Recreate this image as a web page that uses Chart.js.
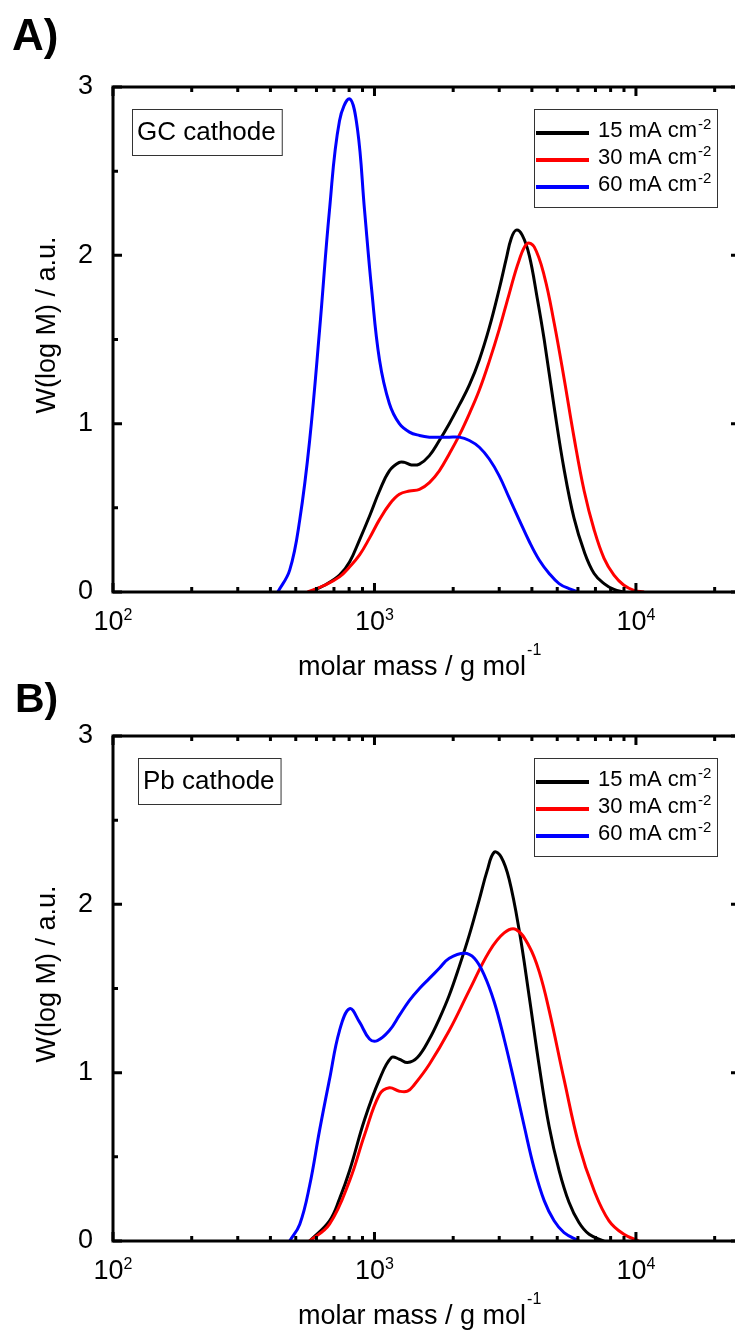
<!DOCTYPE html>
<html>
<head>
<meta charset="utf-8">
<script src="https://cdn.jsdelivr.net/npm/chart.js@4.4.1/dist/chart.umd.min.js"></script>
<style>
  html, body { margin: 0; padding: 0; background: #fff; overflow: hidden; }
  body { width: 735px; height: 1331px; position: relative; }
  canvas { position: absolute; left: 0; }
  #chartA { top: 0; }
  #chartB { top: 649px; }
</style>
</head>
<body>
<canvas id="chartA" width="760" height="682"></canvas>
<canvas id="chartB" width="760" height="682"></canvas>
<script>
// Series labels (superscript part kept apart so it can be raised)
const seriesNames = ['15 mA cm', '30 mA cm', '60 mA cm'];
const seriesSup = '-2';
const seriesColors = ['#000000', '#ff0000', '#0000ff'];

// Axis ticks
const massTicks = [100, 1000, 10000];
const massMinor = [200, 300, 400, 500, 600, 700, 800, 900,
                   2000, 3000, 4000, 5000, 6000, 7000, 8000, 9000, 20000];
const wTicks = [0, 1, 2, 3];
const wMinor = [0.5, 1.5, 2.5];

// A) GC cathode
const gcMass15 = [565, 644, 735, 804, 877, 957, 1045, 1140, 1245, 1303, 1384, 1486, 1622, 1770, 1932, 2109, 2307, 2518, 2748, 3000, 3192, 3334, 3483, 3673, 3908, 4188, 4457, 4864, 5309, 5794, 6339, 6918, 7551, 8241, 8995];
const gcW15    = [0, 0.04, 0.1, 0.18, 0.31, 0.45, 0.6, 0.72, 0.77, 0.77, 0.755, 0.76, 0.81, 0.9, 1.0, 1.11, 1.23, 1.38, 1.57, 1.8, 1.98, 2.1, 2.15, 2.12, 2.0, 1.75, 1.5, 1.1, 0.73, 0.44, 0.24, 0.11, 0.05, 0.015, 0];
const gcMass30 = [555, 644, 735, 804, 877, 957, 1045, 1140, 1245, 1361, 1486, 1622, 1770, 1932, 2109, 2307, 2518, 2748, 3000, 3273, 3573, 3837, 4083, 4457, 4864, 5309, 5794, 6339, 6918, 7551, 8241, 8995, 9818, 10740];
const gcW30    = [0, 0.04, 0.09, 0.15, 0.22, 0.32, 0.43, 0.52, 0.58, 0.6, 0.61, 0.65, 0.72, 0.82, 0.93, 1.06, 1.2, 1.37, 1.56, 1.77, 1.97, 2.07, 2.05, 1.88, 1.6, 1.27, 0.92, 0.6, 0.37, 0.2, 0.1, 0.04, 0.01, 0];
const gcMass60 = [427, 474, 518, 565, 617, 673, 735, 804, 861, 916, 975, 1045, 1140, 1245, 1361, 1486, 1622, 1770, 1932, 2109, 2307, 2518, 2748, 3000, 3273, 3573, 3908, 4266, 4656, 5082, 5546, 6053];
const gcW60    = [0, 0.13, 0.43, 0.9, 1.56, 2.27, 2.8, 2.93, 2.75, 2.27, 1.8, 1.38, 1.12, 1.0, 0.95, 0.93, 0.92, 0.92, 0.92, 0.92, 0.9, 0.86, 0.79, 0.69, 0.56, 0.43, 0.3, 0.19, 0.11, 0.05, 0.02, 0];

// B) Pb cathode
const pbMass15 = [565, 673, 735, 804, 916, 1045, 1161, 1245, 1337, 1459, 1622, 1770, 1932, 2109, 2307, 2518, 2698, 2871, 3055, 3273, 3573, 3908, 4266, 4656, 5082, 5546, 6053, 6622, 7551];
const pbW15    = [0, 0.12, 0.25, 0.42, 0.72, 0.96, 1.09, 1.08, 1.06, 1.09, 1.2, 1.32, 1.46, 1.63, 1.82, 2.03, 2.2, 2.31, 2.28, 2.15, 1.85, 1.45, 1.04, 0.68, 0.42, 0.23, 0.11, 0.04, 0];
const pbMass30 = [565, 673, 804, 916, 1045, 1140, 1245, 1337, 1422, 1622, 1932, 2307, 2748, 3133, 3483, 3908, 4266, 4656, 5309, 6053, 6918, 7889, 8995, 10260];
const pbW30    = [0, 0.1, 0.36, 0.63, 0.87, 0.91, 0.89, 0.89, 0.93, 1.05, 1.25, 1.49, 1.72, 1.83, 1.85, 1.75, 1.6, 1.37, 0.96, 0.57, 0.3, 0.12, 0.04, 0];
const pbMass60 = [474, 518, 565, 617, 673, 735, 804, 877, 957, 1026, 1140, 1245, 1361, 1486, 1622, 1770, 1932, 2208, 2410, 2630, 2871, 3133, 3420, 3741, 4083, 4457, 4864, 5309, 6053];
const pbW60    = [0, 0.1, 0.33, 0.66, 0.96, 1.25, 1.38, 1.3, 1.2, 1.19, 1.25, 1.34, 1.43, 1.5, 1.56, 1.62, 1.68, 1.71, 1.68, 1.58, 1.42, 1.2, 0.95, 0.68, 0.43, 0.24, 0.12, 0.05, 0];

const FONT = "'Liberation Sans', Arial, sans-serif";
Chart.defaults.font.family = FONT;
Chart.defaults.color = '#000';

const toPoints = (m, w) => m.map((v, i) => ({ x: v, y: w[i] }));

// draws frame, inward ticks, x labels, titles, legend box and the cathode label
const decorPlugin = {
  id: 'decor',
  afterDatasetsDraw(chart, args, o) {
    const { ctx, chartArea: a, scales: { x, y } } = chart;
    ctx.save();
    ctx.strokeStyle = '#000';
    ctx.lineWidth = 3;
    ctx.beginPath();
    const tx = (v, len) => {
      const p = x.getPixelForValue(v);
      ctx.moveTo(p, a.bottom); ctx.lineTo(p, a.bottom - len);
      ctx.moveTo(p, a.top); ctx.lineTo(p, a.top + len);
    };
    const ty = (v, len) => {
      const p = y.getPixelForValue(v);
      ctx.moveTo(a.left, p); ctx.lineTo(a.left + len, p);
      ctx.moveTo(a.right, p); ctx.lineTo(a.right - len, p);
    };
    massTicks.forEach(v => tx(v, 9));
    massMinor.forEach(v => tx(v, 5));
    wTicks.forEach(v => ty(v, 9));
    wMinor.forEach(v => ty(v, 5));
    ctx.stroke();
    ctx.strokeRect(a.left, a.top, a.right - a.left, a.bottom - a.top);

    // x tick labels 10^n
    ctx.fillStyle = '#000';
    ctx.textBaseline = 'alphabetic';
    ctx.textAlign = 'left';
    massTicks.forEach(v => {
      const p = x.getPixelForValue(v);
      const exp = String(Math.round(Math.log10(v)));
      ctx.font = '27px ' + FONT;
      const w1 = ctx.measureText('10').width;
      ctx.font = '16px ' + FONT;
      const w2 = ctx.measureText(exp).width;
      const x0 = p - (w1 + w2) / 2;
      ctx.font = '27px ' + FONT;
      ctx.fillText('10', x0, a.bottom + 38);
      ctx.font = '16px ' + FONT;
      ctx.fillText(exp, x0 + w1, a.bottom + 28);
    });

    // x title
    ctx.font = '27px ' + FONT;
    const xt = 'molar mass / g mol';
    ctx.fillText(xt, a.left + 185, a.bottom + 83);
    const xw = ctx.measureText(xt).width;
    ctx.font = '16px ' + FONT;
    ctx.fillText('-1', a.left + 185 + xw + 1, a.bottom + 63);

    // y title
    ctx.save();
    ctx.translate(55, a.top + 238);
    ctx.rotate(-Math.PI / 2);
    ctx.font = '27px ' + FONT;
    ctx.textAlign = 'center';
    ctx.fillText('W(log M) / a.u.', 0, 0);
    ctx.restore();

    // panel letter
    ctx.font = 'bold ' + o.letterSize + 'px ' + FONT;
    ctx.fillText(o.letter, o.letterX, o.letterY);

    // cathode label box
    ctx.font = '26px ' + FONT;
    const lw = ctx.measureText(o.label).width;
    ctx.strokeStyle = '#333';
    ctx.lineWidth = 1;
    ctx.strokeRect(a.left + o.boxX + 0.5, a.top + 22.5, lw + 11, 46);
    ctx.textBaseline = 'middle';
    ctx.fillText(o.label, a.left + o.boxX + 5, a.top + 46);

    // legend
    const lx = a.right - 206, lr = a.right - 23;
    ctx.strokeRect(lx + 0.5, a.top + 22.5, lr - lx, 98);
    ctx.textBaseline = 'alphabetic';
    chart.data.datasets.forEach((ds, i) => {
      const ly = a.top + 46 + i * 27;
      ctx.strokeStyle = ds.borderColor;
      ctx.lineWidth = 4;
      ctx.beginPath();
      ctx.moveTo(lx + 2, ly);
      ctx.lineTo(lx + 55, ly);
      ctx.stroke();
      ctx.font = '22px ' + FONT;
      ctx.fillText(ds.label, lx + 64, ly + 4 + 0);
      const w = ctx.measureText(ds.label).width;
      ctx.font = '15px ' + FONT;
      ctx.fillText(seriesSup, lx + 64 + w + 1, ly - 4);
    });
    ctx.restore();
  }
};

function makeChart(id, sets, decor) {
  return new Chart(document.getElementById(id), {
    type: 'line',
    data: {
      datasets: sets.map((s, i) => ({
        label: seriesNames[i],
        data: toPoints(s[0], s[1]),
        borderColor: seriesColors[i],
        borderWidth: 3,
        pointRadius: 0,
        fill: false,
        tension: 0.4,
        order: 2 - i
      }))
    },
    options: {
      responsive: false,
      animation: false,
      devicePixelRatio: 1,
      layout: { padding: { left: 0, top: 87, right: 20, bottom: 0 } },
      plugins: { legend: { display: false }, tooltip: { enabled: false }, decor: decor },
      scales: {
        x: {
          type: 'logarithmic',
          min: 100,
          max: 25000,
          grid: { display: false },
          border: { display: false },
          ticks: { display: false },
          afterFit: s => { s.height = 90; }
        },
        y: {
          min: 0,
          max: 3,
          grid: { display: false },
          border: { display: false },
          afterBuildTicks: s => { s.ticks = wTicks.map(v => ({ value: v })); },
          ticks: { font: { size: 27 }, color: '#000', padding: 12 },
          afterFit: s => { s.width = 113; }
        }
      }
    },
    plugins: [decorPlugin]
  });
}

makeChart('chartA',
  [[gcMass15, gcW15], [gcMass30, gcW30], [gcMass60, gcW60]],
  { letter: 'A)', letterSize: 44, letterX: 12, letterY: 50, label: 'GC cathode', boxX: 19 });

makeChart('chartB',
  [[pbMass15, pbW15], [pbMass30, pbW30], [pbMass60, pbW60]],
  { letter: 'B)', letterSize: 41, letterX: 15, letterY: 63, label: 'Pb cathode', boxX: 25 });
</script>
</body>
</html>
